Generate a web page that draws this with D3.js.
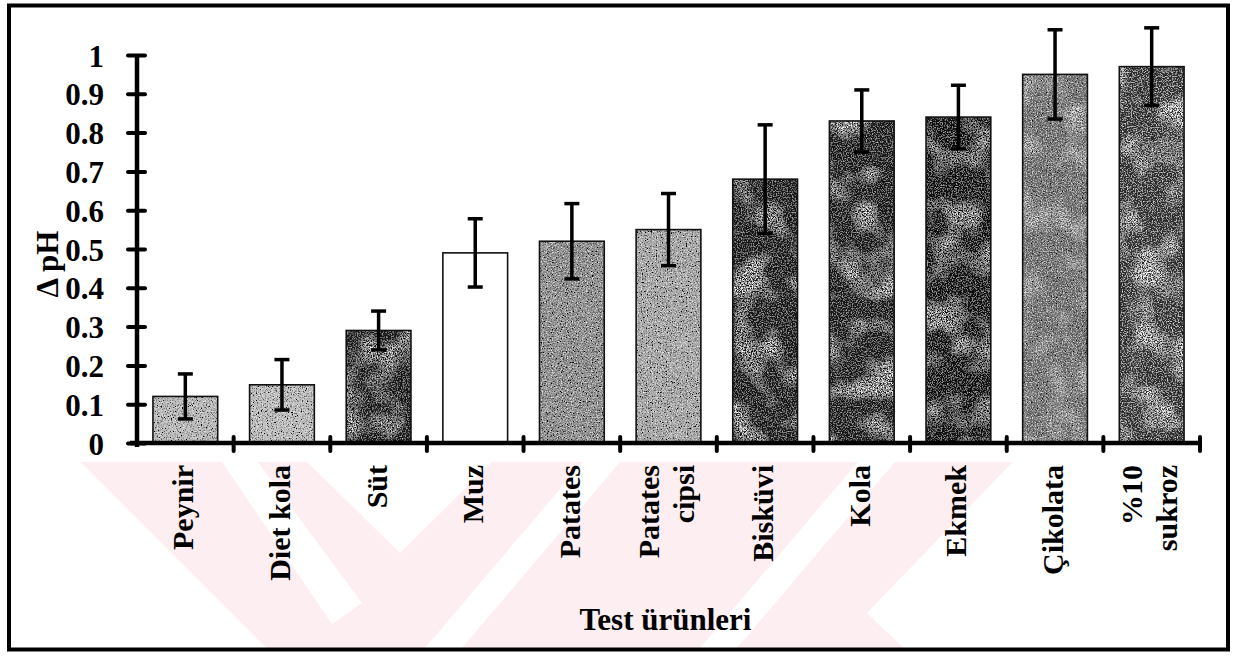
<!DOCTYPE html>
<html>
<head>
<meta charset="utf-8">
<script src="https://cdn.jsdelivr.net/npm/d3@7"></script>
<style>
  html, body { margin: 0; padding: 0; background: #fff; }
  svg { display: block; }
  text { font-family: "Liberation Serif", "Times New Roman", serif; font-weight: bold; fill: #000; }
</style>
</head>
<body>
<svg id="chart" width="1233" height="657"></svg>
<script>
// Change in plaque pH after each test product (mean ± SD)
const categories = ["Peynir", "Diet kola", "Süt", "Muz", "Patates", "Patates\ncipsi",
                    "Bisküvi", "Kola", "Ekmek", "Çikolata", "%10\nsukroz"];
const deltaPH = [0.12, 0.15, 0.29, 0.49, 0.52, 0.55, 0.68, 0.83, 0.84, 0.95, 0.97];
const deltaSD = [0.058, 0.065, 0.05, 0.088, 0.097, 0.093, 0.14, 0.08, 0.082, 0.115, 0.10];
const yTicks = [0, 0.1, 0.2, 0.3, 0.4, 0.5, 0.6, 0.7, 0.8, 0.9, 1];
const yTickLabels = ["0", "0.1", "0.2", "0.3", "0.4", "0.5", "0.6", "0.7", "0.8", "0.9", "1"];
const xTitle = "Test ürünleri";
const yTitle = "Δ pH";

// Shading of each bar: base grey, dark/light speckle strength, lighter speckled patches
const barShade = [
  { fill: "#bdbdbd", dark: 0.7,  light: 0.3,  patch: 0.0 },
  { fill: "#c2c2c2", dark: 0.7,  light: 0.3,  patch: 0.0 },
  { fill: "#121212", dark: 0.0,  light: 0.2,  patch: 0.55 },
  { fill: "#ffffff", dark: 0.0,  light: 0.0,  patch: 0.0 },
  { fill: "#8e8e8e", dark: 0.7,  light: 0.35, patch: 0.0 },
  { fill: "#a8a8a8", dark: 0.7,  light: 0.4,  patch: 0.0 },
  { fill: "#121212", dark: 0.0,  light: 0.2,  patch: 0.7 },
  { fill: "#121212", dark: 0.0,  light: 0.2,  patch: 0.7 },
  { fill: "#101010", dark: 0.0,  light: 0.2,  patch: 0.6 },
  { fill: "#6e6e6e", dark: 0.6,  light: 0.35, patch: 0.5 },
  { fill: "#2e2e2e", dark: 0.3,  light: 0.35, patch: 0.8 }
];

const svg = d3.select("#chart");
const plot = { left: 137, right: 1200, top: 55, bottom: 443 };

const x = d3.scaleBand()
  .domain(categories)
  .range([plot.left, plot.right])
  .paddingInner(0.33)
  .paddingOuter(0.165);
const y = d3.scaleLinear().domain([0, 1]).range([plot.bottom, plot.top]);

// ---- speckle filters ----
const defs = svg.append("defs");
barShade.forEach((s, i) => {
  const f = defs.append("filter").attr("id", "grain" + i)
    .attr("x", 0).attr("y", 0).attr("width", 1).attr("height", 1);
  f.append("feTurbulence").attr("type", "fractalNoise")
    .attr("baseFrequency", 0.8).attr("numOctaves", 2).attr("seed", 3 + i).attr("result", "noise");
  f.append("feTurbulence").attr("type", "fractalNoise")
    .attr("baseFrequency", 0.03).attr("numOctaves", 2).attr("seed", 11 + i).attr("result", "blotch");
  f.append("feColorMatrix").attr("in", "noise").attr("type", "matrix")
    .attr("values", `0 0 0 0 0  0 0 0 0 0  0 0 0 0 0  ${6 * s.dark} 0 0 0 ${-2.9 * s.dark}`)
    .attr("result", "darkSpecks");
  f.append("feColorMatrix").attr("in", "noise").attr("type", "matrix")
    .attr("values", `0 0 0 0 1  0 0 0 0 1  0 0 0 0 1  0 ${6 * s.light} 0 0 ${-2.9 * s.light}`)
    .attr("result", "lightSpecks");
  // where the coarse noise is high, the fine specks get denser
  f.append("feColorMatrix").attr("in", "blotch").attr("type", "matrix")
    .attr("values", `0 0 0 0 0  0 0 0 0 0  0 0 0 0 0  0 0 4 0 -1.9`)
    .attr("result", "patchMask");
  f.append("feColorMatrix").attr("in", "noise").attr("type", "matrix")
    .attr("values", `0 0 0 0 1  0 0 0 0 1  0 0 0 0 1  0 0 ${5 * s.patch} 0 ${-2.2 * s.patch}`)
    .attr("result", "denseLight");
  f.append("feComposite").attr("in", "denseLight").attr("in2", "patchMask")
    .attr("operator", "in").attr("result", "patchSpecks");
  const m = f.append("feMerge").attr("result", "merged");
  m.append("feMergeNode").attr("in", "SourceGraphic");
  m.append("feMergeNode").attr("in", "darkSpecks");
  m.append("feMergeNode").attr("in", "lightSpecks");
  m.append("feMergeNode").attr("in", "patchSpecks");
  f.append("feComposite").attr("in", "merged").attr("in2", "SourceGraphic").attr("operator", "in");
});

// ---- faint backdrop emblem behind the category labels ----
const emblemClip = defs.append("clipPath").attr("id", "emblemClip");
const emblemOutline = [[80, 462], [1013, 462], [867, 613], [904, 648], [266, 648]];
emblemClip.append("polygon").attr("points", emblemOutline.map(p => p.join(",")).join(" "));
const emblem = svg.append("g").attr("clip-path", "url(#emblemClip)");
emblem.append("polygon").attr("points", emblemOutline.map(p => p.join(",")).join(" "))
  .attr("fill", "#fdeef1");
const emblemGaps = [
  [[222, 462], [258, 462], [362, 603], [332, 624]],
  [[307, 462], [492, 462], [400, 553]],
  [[425, 648], [462, 648], [620, 462], [583, 462]],
  [[700, 648], [737, 648], [895, 462], [858, 462]]
];
emblemGaps.forEach(g => emblem.append("polygon")
  .attr("points", g.map(p => p.join(",")).join(" ")).attr("fill", "#fff"));

// ---- frame ----
svg.append("rect").attr("x", 9).attr("y", 5.5).attr("width", 1219).attr("height", 644)
  .attr("fill", "none").attr("stroke", "#000").attr("stroke-width", 4);

// ---- bars ----
svg.append("g").selectAll("rect").data(categories).join("rect")
  .attr("x", d => x(d))
  .attr("y", (d, i) => y(deltaPH[i]))
  .attr("width", x.bandwidth())
  .attr("height", (d, i) => y(0) - y(deltaPH[i]))
  .attr("fill", (d, i) => barShade[i].fill)
  .attr("filter", (d, i) => barShade[i].fill === "#ffffff" ? null : `url(#grain${i})`);
svg.append("g").selectAll("rect").data(categories).join("rect")
  .attr("x", d => x(d))
  .attr("y", (d, i) => y(deltaPH[i]))
  .attr("width", x.bandwidth())
  .attr("height", (d, i) => y(0) - y(deltaPH[i]))
  .attr("fill", "none").attr("stroke", "#111").attr("stroke-width", 1.6);

// ---- error bars ----
const eb = svg.append("g").attr("stroke", "#000").attr("stroke-width", 3.5);
categories.forEach((c, i) => {
  const cx = x(c) + x.bandwidth() / 2;
  const hi = y(deltaPH[i] + deltaSD[i]), lo = y(deltaPH[i] - deltaSD[i]);
  eb.append("line").attr("x1", cx).attr("x2", cx).attr("y1", hi).attr("y2", lo);
  eb.append("line").attr("x1", cx - 7.5).attr("x2", cx + 7.5).attr("y1", hi).attr("y2", hi);
  eb.append("line").attr("x1", cx - 7.5).attr("x2", cx + 7.5).attr("y1", lo).attr("y2", lo);
});

// ---- y axis ----
const yAxis = d3.axisLeft(y).tickValues(yTicks).tickFormat((d, i) => yTickLabels[i])
  .tickSizeInner(9).tickSizeOuter(0).tickPadding(24);
const gy = svg.append("g").attr("transform", `translate(${plot.left},0)`).call(yAxis);
gy.select(".domain").attr("d", `M0,${plot.bottom + 4}V${plot.top - 1}`)
  .attr("stroke", "#000").attr("stroke-width", 4.5);
gy.selectAll(".tick line").attr("x1", -9).attr("x2", 8)
  .attr("stroke", "#000").attr("stroke-width", 4).attr("stroke-linecap", "round");
gy.selectAll(".tick text").attr("font-size", 31).attr("dy", "0.36em")
  .attr("font-family", null).attr("fill", "#000");

// ---- x axis ----
const xAxis = d3.axisBottom(x).tickSize(0).tickFormat("");
const gx = svg.append("g").attr("transform", `translate(0,${plot.bottom})`).call(xAxis);
gx.select(".domain").attr("d", `M${plot.left - 7},0H${plot.right + 2}`)
  .attr("stroke", "#000").attr("stroke-width", 4.5);
const step = x.step();
const bounds = d3.range(categories.length + 1).map(k => plot.left + k * step);
gx.selectAll(".sep").data(bounds.slice(1)).join("line").attr("class", "sep")
  .attr("x1", d => d).attr("x2", d => d).attr("y1", -6).attr("y2", 8)
  .attr("stroke", "#000").attr("stroke-width", 4).attr("stroke-linecap", "round");

// category labels, rotated, reading bottom-to-top
const labelFont = 30, lineGap = 35;
categories.forEach(c => {
  const lines = c.split("\n");
  const cx = x(c) + x.bandwidth() / 2 + 4;
  lines.forEach((ln, k) => {
    const off = (k - (lines.length - 1) / 2) * lineGap;
    svg.append("text")
      .attr("transform", `translate(${cx + off + 4},465) rotate(-90)`)
      .attr("text-anchor", "end")
      .attr("font-size", labelFont)
      .text(ln);
  });
});

// ---- axis titles ----
svg.append("text").attr("x", (plot.left + plot.right) / 2 - 3).attr("y", 630)
  .attr("text-anchor", "middle").attr("font-size", 31).text(xTitle);
svg.append("text").attr("transform", "translate(58,264) rotate(-90)")
  .attr("text-anchor", "middle").attr("font-size", 31).text(yTitle);
</script>
</body>
</html>
